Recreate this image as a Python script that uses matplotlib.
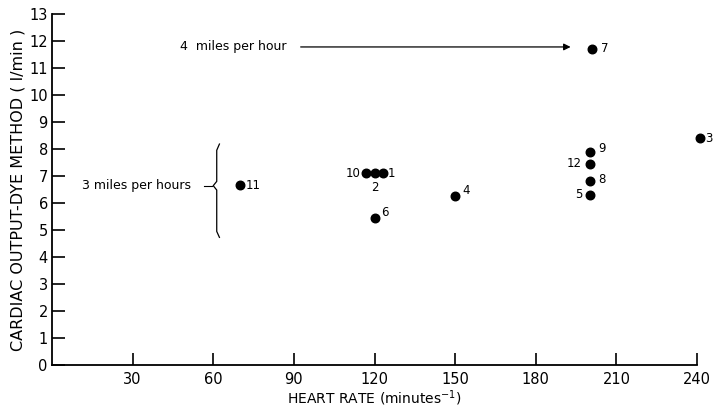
import matplotlib
matplotlib.use('Agg')
import matplotlib.pyplot as plt

# subject number, heart rate (min^-1), cardiac output (l/min)
subjects = ['1', '2', '3', '4', '5', '6', '7', '8', '9', '10', '11', '12']
heart_rate = [123, 120, 241, 150, 200, 120, 201, 200, 200, 117, 70, 200]
cardiac_output = [7.1, 7.1, 8.4, 6.25, 6.3, 5.45, 11.7, 6.8, 7.9, 7.1, 6.65, 7.45]

x_ticks = [30, 60, 90, 120, 150, 180, 210, 240]
y_ticks = list(range(0, 14))

# where each subject number sits relative to its dot (points)
label_offsets = {
    '1': (4, 0, 'left'), '2': (0, -10, 'center'), '3': (4, 0, 'left'),
    '4': (5, 4, 'left'), '5': (-5, 0, 'right'), '6': (5, 4, 'left'),
    '7': (6, 0, 'left'), '8': (6, 1, 'left'), '9': (6, 2, 'left'),
    '10': (-4, 0, 'right'), '11': (4, 0, 'left'), '12': (-6, 0, 'right'),
}

plt.rcParams['font.family'] = 'DejaVu Sans'
fig = plt.figure(figsize=(7.13, 4.11), dpi=100)
ax = fig.add_axes([0.0729, 0.1112, 0.9047, 0.8555])

ax.scatter(heart_rate, cardiac_output, s=38, color='black', zorder=3, clip_on=False)
for s, hx, co in zip(subjects, heart_rate, cardiac_output):
    dx, dy, ha = label_offsets[s]
    ax.annotate(s, (hx, co), xytext=(dx, dy), textcoords='offset points',
                ha=ha, va='center', fontsize=8.5, annotation_clip=False)

ax.set_xlim(0, 240)
ax.set_ylim(0, 13)
ax.set_xticks(x_ticks)
ax.set_yticks(y_ticks)
ax.tick_params(direction='in', length=9, width=1.2, labelsize=10.5, color='black')
ax.tick_params(axis='x', pad=5)
ax.tick_params(axis='y', pad=3)
for side in ['top', 'right']:
    ax.spines[side].set_visible(False)
for side in ['left', 'bottom']:
    ax.spines[side].set_linewidth(1.3)

ax.set_xlabel('HEART RATE (minutes$^{-1}$)', fontsize=10, labelpad=1)
ax.set_ylabel('CARDIAC OUTPUT-DYE METHOD ( l/min )', fontsize=11.5, labelpad=3)

# 4 miles per hour arrow
ax.text(67.5, 11.77, '4  miles per hour', ha='center', va='center', fontsize=9)
ax.annotate('', xy=(194, 11.77), xytext=(91.5, 11.77),
            arrowprops=dict(arrowstyle='-|>', color='black', lw=0.9, mutation_scale=10))

# 3 miles per hour brace
ax.text(31.5, 6.64, '3 miles per hours', ha='center', va='center', fontsize=9)
ax.plot([56.5, 59.5], [6.64, 6.64], color='black', lw=0.8)
bx = [62.3, 61.3, 61.3, 60.0, 61.3, 61.3, 62.3]
by = [8.18, 7.95, 6.8, 6.64, 6.48, 4.95, 4.73]
ax.plot(bx, by, color='black', lw=0.9)

fig.savefig('out.png', dpi=100)
